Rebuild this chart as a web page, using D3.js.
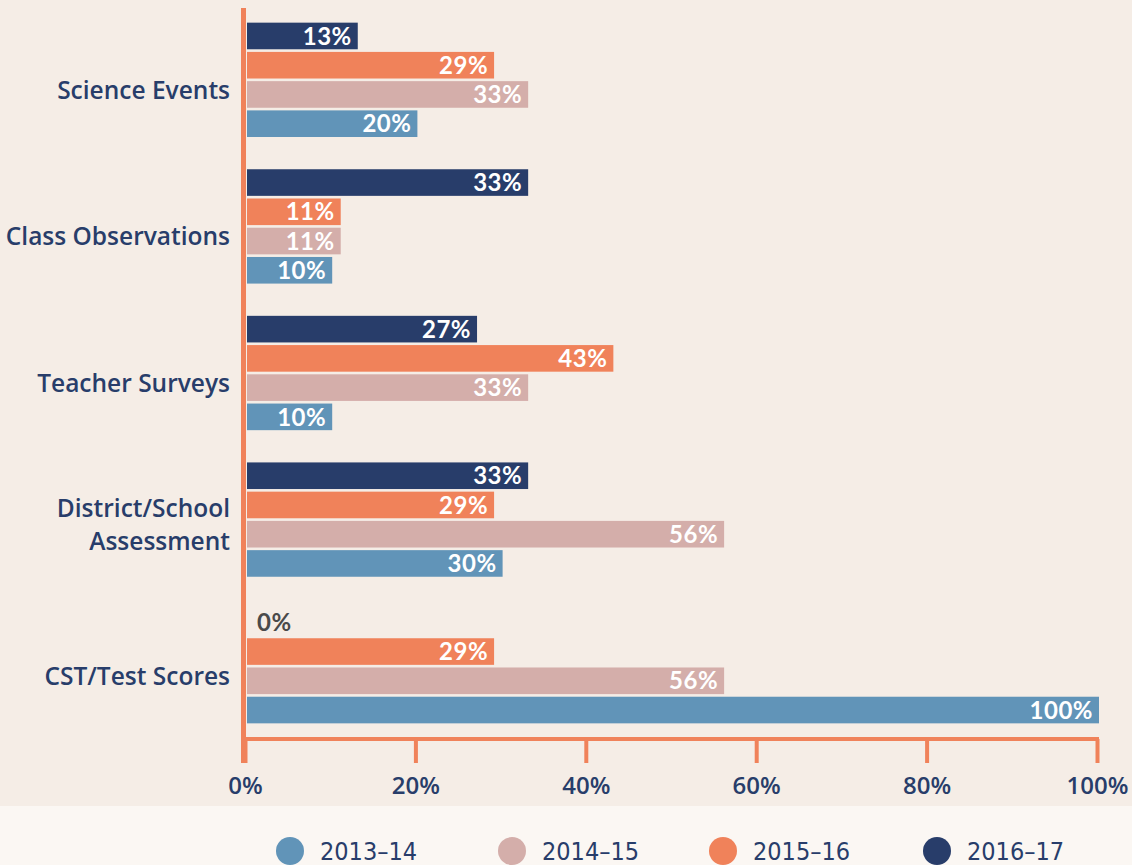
<!DOCTYPE html>
<html>
<head>
<meta charset="utf-8">
<script src="https://cdn.jsdelivr.net/npm/d3@7"></script>
<style>
  body { margin: 0; background: #f5ede6; }
  svg { display: block; }
</style>
</head>
<body>
<svg id="chart"></svg>
<script>
// Data
const categories = ["Science Events", "Class Observations", "Teacher Surveys", "District/School Assessment", "CST/Test Scores"];
const seriesNames = ["2013–14", "2014–15", "2015–16", "2016–17"];
const v2013 = [20, 10, 10, 30, 100];
const v2014 = [33, 11, 33, 56, 56];
const v2015 = [29, 11, 43, 29, 29];
const v2016 = [13, 33, 27, 33, 0];
const tickValues = [0, 20, 40, 60, 80, 100];

const colors = {"2013–14": "#6194b8", "2014–15": "#d4aeaa", "2015–16": "#f0825a", "2016–17": "#283d6a"};
const navy = "#283d6a";
const orange = "#f0825a";

const W = 1132, H = 865;
const svg = d3.select("#chart").attr("width", W).attr("height", H);

// background bands
svg.append("rect").attr("width", W).attr("height", 806).attr("fill", "#f5ede6");
svg.append("rect").attr("y", 806).attr("width", W).attr("height", H - 806).attr("fill", "#fbf7f3");

const values = {"2013–14": v2013, "2014–15": v2014, "2015–16": v2015, "2016–17": v2016};
const rows = categories.map((c, i) => ({cat: c, vals: seriesNames.map(s => ({s, v: values[s][i]}))}));

// Scales
const x = d3.scaleLinear().domain([0, 100]).range([245, 1097]);
const y = d3.scaleBand().domain(categories).range([8, 738]).paddingInner(0.22).paddingOuter(0.1);
const yInner = d3.scaleBand().domain(seriesNames.slice().reverse()).range([0, y.bandwidth()]).paddingInner(0.09);

const font = "'Open Sans', Lato, sans-serif";

// Bars
const groups = svg.selectAll(".group")
  .data(rows)
  .join("g")
  .attr("class", "group")
  .attr("transform", d => `translate(0,${y(d.cat)})`);

groups.selectAll("rect")
  .data(d => d.vals)
  .join("rect")
  .attr("x", 247)
  .attr("y", d => yInner(d.s))
  .attr("width", d => Math.max(0, x(d.v) - 247 + 2))
  .attr("height", yInner.bandwidth())
  .attr("fill", d => colors[d.s]);

// value labels (Lato keeps the line box inside one bar step)
groups.selectAll("text.val")
  .data(d => d.vals)
  .join("text")
  .attr("class", "val")
  .attr("x", d => d.v > 0 ? x(d.v) - 4 : x(0) + 12)
  .attr("y", d => yInner(d.s) + yInner.bandwidth() / 2)
  .attr("dy", "0.36em")
  .attr("text-anchor", d => d.v > 0 ? "end" : "start")
  .attr("fill", d => d.v > 0 ? "#ffffff" : "#4a4a4a")
  .style("font-family", "Lato, 'Open Sans', sans-serif")
  .style("font-weight", 700)
  .style("font-size", "24px")
  .style("letter-spacing", "0.5px")
  .text(d => d.v + "%");

// Category labels
svg.selectAll(".cat")
  .data(categories)
  .join("text")
  .attr("class", "cat")
  .attr("x", 230)
  .attr("y", d => y(d) + y.bandwidth() / 2 + (d === "District/School Assessment" ? 5 : 10))
  .attr("text-anchor", "end")
  .attr("fill", navy)
  .style("font-family", font)
  .style("font-weight", 600)
  .style("font-size", "24.5px")
  .each(function(d) {
    const t = d3.select(this);
    const lines = d === "District/School Assessment" ? ["District/School", "Assessment"] : [d];
    lines.forEach((ln, i) => {
      t.append("tspan")
        .attr("x", 230)
        .attr("dy", i === 0 ? `${0.36 - (lines.length - 1) * 0.69}em` : "1.38em")
        .text(ln);
    });
  });

// Axes
const xAxis = svg.append("g").attr("transform", "translate(0,739)")
  .call(d3.axisBottom(x).tickValues(tickValues).tickSize(24).tickFormat(d => d + "%"));
xAxis.select(".domain").attr("d", `M${x(0) - 2},0H${x(100) + 2}`).attr("stroke", orange).attr("stroke-width", 4);
xAxis.selectAll(".tick line").attr("stroke", orange).attr("stroke-width", 4);
xAxis.selectAll(".tick text")
  .attr("y", 38)
  .attr("fill", navy)
  .style("font-family", font)
  .style("font-weight", 600)
  .style("font-size", "24px");

svg.append("line")
  .attr("x1", 243.5).attr("x2", 243.5)
  .attr("y1", 8).attr("y2", 763)
  .attr("stroke", orange).attr("stroke-width", 5);

// Legend
const legendX = [290, 512, 723, 937];
const legend = svg.selectAll(".legend")
  .data(seriesNames)
  .join("g")
  .attr("class", "legend")
  .attr("transform", (d, i) => `translate(${legendX[i]},851)`);
legend.append("circle").attr("r", 14).attr("fill", d => colors[d]);
legend.append("text")
  .attr("x", 30)
  .attr("dy", "0.36em")
  .attr("fill", navy)
  .style("font-family", "'Liberation Sans Narrow', 'DejaVu Sans Condensed', sans-serif")
  .style("font-size", "25px")
  .text(d => d);
</script>
</body>
</html>
